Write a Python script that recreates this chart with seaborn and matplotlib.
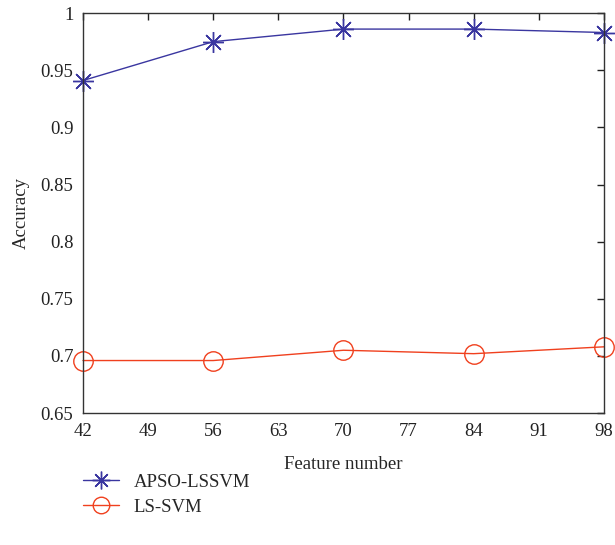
import matplotlib
matplotlib.use("Agg")
from matplotlib import pyplot as plt
import seaborn as sns

# data
feature_number = [42, 56, 70, 84, 98]
apso_lssvm = [0.941, 0.975, 0.986, 0.986, 0.983]
ls_svm = [0.696, 0.696, 0.705, 0.702, 0.708]
series_names = ["APSO-LSSVM", "LS-SVM"]
x_ticks = [42, 49, 56, 63, 70, 77, 84, 91, 98]
y_ticks = [0.65, 0.7, 0.75, 0.8, 0.85, 0.9, 0.95, 1]
y_tick_labels = ["0.65", "0.7", "0.75", "0.8", "0.85", "0.9", "0.95", "1"]

sns.set_style("white")
plt.rcParams["font.family"] = ["Liberation Serif", "DejaVu Serif"]

fig = plt.figure(figsize=(6.15, 5.45), dpi=100)
ax = fig.add_axes([0.135, 0.242, 0.847, 0.734])

blue, red = "#3a36a0", "#f0401e"
# one call per series, since the asterisk is line art and the circle is not
sns.lineplot(x=feature_number, y=apso_lssvm, label=series_names[0], color=blue,
             marker=(8, 2, 0), markersize=15, linewidth=1.0, markeredgewidth=1.0,
             markeredgecolor=blue, clip_on=False, ax=ax)
sns.lineplot(x=feature_number, y=ls_svm, label=series_names[1], color=red,
             marker="o", markersize=14, linewidth=1.0, markeredgewidth=1.0,
             markeredgecolor=red, markerfacecolor="none", clip_on=False, ax=ax)

ax.set_xlim(42, 98)
ax.set_ylim(0.65, 1)
ax.set_xticks(x_ticks)
ax.set_yticks(y_ticks)
ax.set_yticklabels(y_tick_labels)
ax.tick_params(direction="in", length=5, width=1, top=True, right=True,
               labelsize=13.5, colors="#222222", pad=7)
for sp in ax.spines.values():
    sp.set_color("#333333")
    sp.set_linewidth(1)
ax.set_xlabel("Feature number", fontsize=13.5, labelpad=12)
ax.set_ylabel("Accuracy", fontsize=13.5, labelpad=8)

handles, labels = ax.get_legend_handles_labels()
ax.legend_.remove()
fig.legend(handles, labels, loc="upper left", bbox_to_anchor=(0.135, 0.131),
           frameon=False, fontsize=13.5, handlelength=1.9, labelspacing=0.42,
           handletextpad=0.8, borderpad=0, borderaxespad=0, markerscale=0.85)

fig.savefig("out.png", dpi=100)
